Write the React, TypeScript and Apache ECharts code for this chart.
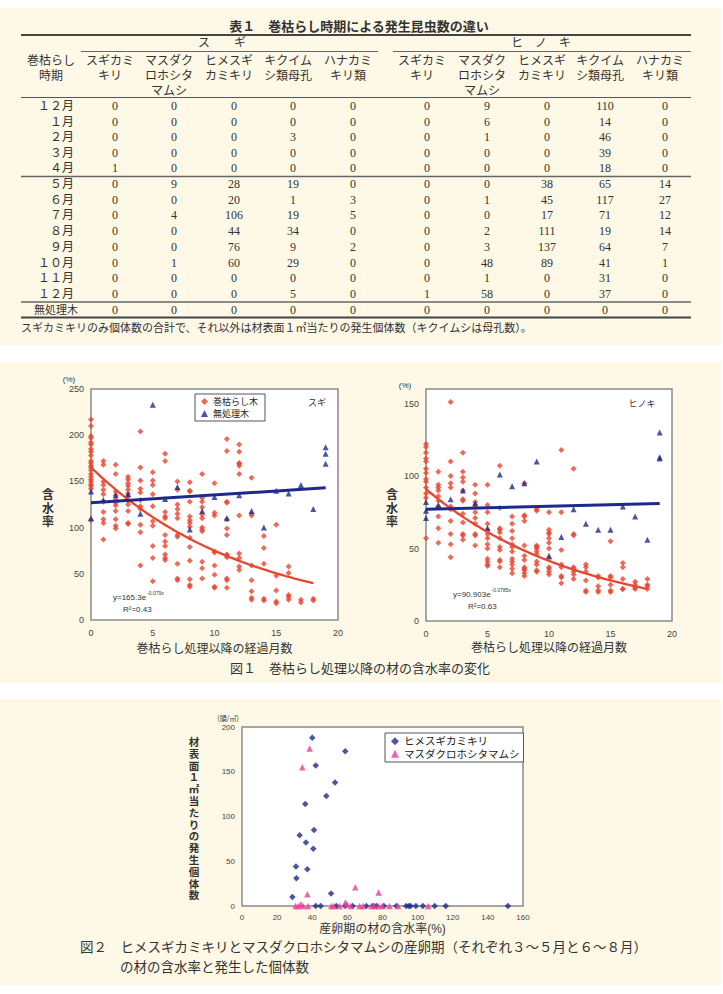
import React, { useEffect, useRef } from "react";
import * as echarts from "echarts";

// ---------- 表１ ----------
const tableTitle = "表１　巻枯らし時期による発生昆虫数の違い";
const speciesGroups = ["ス　　ギ", "ヒ　ノ　キ"];
const periodHeader = "巻枯らし\n時期";
const insectHeaders = [
  "スギカミ\nキリ",
  "マスダク\nロホシタ\nマムシ",
  "ヒメスギ\nカミキリ",
  "キクイム\nシ類母孔",
  "ハナカミ\nキリ類",
];
const periods = [
  "１２月", "１月", "２月", "３月", "４月",
  "５月", "６月", "７月", "８月", "９月", "１０月", "１１月", "１２月",
  "無処理木",
];
const sugiCounts = [
  [0, 0, 0, 0, 0],
  [0, 0, 0, 0, 0],
  [0, 0, 0, 3, 0],
  [0, 0, 0, 0, 0],
  [1, 0, 0, 0, 0],
  [0, 9, 28, 19, 0],
  [0, 0, 20, 1, 3],
  [0, 4, 106, 19, 5],
  [0, 0, 44, 34, 0],
  [0, 0, 76, 9, 2],
  [0, 1, 60, 29, 0],
  [0, 0, 0, 0, 0],
  [0, 0, 0, 5, 0],
  [0, 0, 0, 0, 0],
];
const hinokiCounts = [
  [0, 9, 0, 110, 0],
  [0, 6, 0, 14, 0],
  [0, 1, 0, 46, 0],
  [0, 0, 0, 39, 0],
  [0, 0, 0, 18, 0],
  [0, 0, 38, 65, 14],
  [0, 1, 45, 117, 27],
  [0, 0, 17, 71, 12],
  [0, 2, 111, 19, 14],
  [0, 3, 137, 64, 7],
  [0, 48, 89, 41, 1],
  [0, 1, 0, 31, 0],
  [1, 58, 0, 37, 0],
  [0, 0, 0, 0, 0],
];
const tableNote =
  "スギカミキリのみ個体数の合計で、それ以外は材表面１㎡当たりの発生個体数（キクイムシは母孔数）。";

// ---------- 図１ ----------
const fig1Caption = "図１　巻枯らし処理以降の材の含水率の変化";
const monthAxisName = "巻枯らし処理以降の経過月数";
const moistureName = "含水率";
const treatedName = "巻枯らし木";
const controlName = "無処理木";

// スギ: moisture content (%) of girdled trees, listed per elapsed month (index = month)
const sugiTreated = [
  [217, 210, 199, 197, 192, 190, 185, 182, 178, 172, 170, 167, 165, 162, 158, 155, 152, 150, 147, 145, 142, 108],
  [172, 168, 150, 146, 141, 136, 128, 117, 109, 105, 87],
  [168, 158, 139, 135, 130, 127, 124, 118, 109, 102, 99],
  [155, 152, 148, 145, 141, 137, 134, 129, 125, 118, 105, 104],
  [204, 165, 151, 142, 138, 130, 123, 120, 103, 95, 59],
  [160, 151, 146, 136, 123, 107, 102, 80, 67, 42],
  [180, 172, 117, 112, 110, 92, 85, 80, 71, 67, 65],
  [150, 141, 125, 120, 115, 110, 92, 90, 61, 45, 43],
  [149, 140, 139, 128, 112, 108, 105, 101, 89, 79, 64, 44, 38, 36],
  [158, 132, 128, 122, 114, 110, 100, 98, 96, 63, 56, 45],
  [148, 116, 113, 74, 73, 59, 49, 36, 35],
  [196, 183, 128, 127, 109, 99, 92, 71, 70, 68, 45, 43, 35],
  [190, 182, 170, 169, 167, 158, 113, 72, 67, 58, 54],
  [154, 115, 113, 59, 43, 31, 24, 22],
  [91, 78, 61, 23, 21],
  [103, 48, 32, 20, 18],
  [58, 51, 27, 25, 22],
  [22, 19],
  [23, 21],
];
// スギ: untreated trees [month, %]
const sugiControl = [
  [0, 139], [0, 110], [1, 130], [2, 135], [3, 136], [4, 115], [5, 233], [6, 131],
  [7, 144], [8, 98], [9, 118], [10, 133], [11, 110], [12, 135], [13, 118], [14, 100],
  [15, 140], [16, 137], [17, 146], [18, 120], [19, 187], [19, 180], [19, 169],
];
const sugiFit = { a: 165.3, b: -0.079, r2: "0.43", xMax: 18 };
const sugiControlTrend = [[0, 127], [19, 143]];

// ヒノキ
const hinokiTreated = [
  [122, 120, 116, 112, 110, 105, 102, 98, 96, 92, 88, 85, 57],
  [103, 94, 92, 90, 86, 83, 79, 72, 64, 54],
  [151, 110, 100, 95, 92, 79, 77, 69, 60, 53, 44],
  [116, 103, 99, 96, 90, 84, 83, 74, 68, 60, 59, 56],
  [94, 88, 82, 80, 75, 71, 67, 60, 59, 52],
  [94, 80, 75, 67, 63, 60, 57, 53, 50, 43, 41, 39, 38],
  [107, 78, 64, 63, 61, 57, 51, 49, 42, 41, 37],
  [72, 67, 62, 57, 53, 51, 48, 43, 41, 39, 36, 33],
  [95, 73, 72, 69, 52, 45, 42, 37, 36, 35, 33, 31],
  [77, 76, 52, 51, 50, 48, 46, 41, 39, 35, 34],
  [75, 63, 61, 60, 57, 54, 50, 43, 37, 36, 34, 32],
  [118, 75, 49, 39, 37, 31, 30, 26],
  [105, 60, 59, 37, 36, 34, 32, 29],
  [39, 37, 34, 28, 21, 20],
  [31, 30, 24, 21, 20],
  [55, 31, 30, 25, 21, 20],
  [40, 37, 29, 22, 22],
  [27, 25, 23, 22],
  [29, 25, 24, 22],
];
const hinokiControl = [
  [0, 82], [0, 76], [0, 71], [1, 80], [2, 84], [3, 90], [4, 81], [5, 64], [6, 101],
  [7, 93], [8, 95], [9, 110], [10, 45], [11, 58], [12, 77], [13, 67], [14, 63],
  [15, 63], [16, 79], [17, 72], [18, 56], [19, 130], [19, 113], [19, 112],
];
const hinokiFit = { a: 90.903, b: -0.0785, r2: "0.63", xMax: 18 };
const hinokiControlTrend = [[0, 77], [19, 81]];

// ---------- 図２ ----------
const fig2CaptionLines = [
  "図２　ヒメスギカミキリとマスダクロホシタマムシの産卵期（それぞれ３～５月と６～８月）",
  "の材の含水率と発生した個体数",
];
const fig2YName = "材表面１㎡当たりの発生個体数";
const fig2XName = "産卵期の材の含水率(%)";
const himesugiName = "ヒメスギカミキリ";
const masudaName = "マスダクロホシタマムシ";
// [moisture %, individuals per m²]
const himesugiPoints = [
  [28.7, 10], [30.7, 44], [31, 31], [32.8, 79], [36, 114], [36.4, 71], [37.2, 41],
  [40, 188], [40.6, 64], [41, 85], [42, 157], [48, 123], [50.7, 14], [53, 138], [58.8, 173],
  [42, 0], [44.8, 0], [53.7, 0], [58.8, 0], [63, 0], [70.8, 0], [74.6, 0], [76.5, 0],
  [80.8, 0], [87.9, 0], [93.5, 0], [95, 0], [96, 0], [99, 0], [103, 0], [109.7, 0],
  [116, 0], [151.4, 0],
];
const masudaPoints = [
  [34.3, 155], [38.5, 176], [37.2, 13], [64.5, 21], [77.8, 15],
  [30.5, 0], [32, 0], [33.6, 2], [34.7, 0], [37.6, 0], [50.9, 0], [52.2, 0], [55.6, 0],
  [58.8, 4], [59.8, 2], [62, 0], [67, 0], [69, 0], [73.6, 0], [75.3, 0], [77.8, 0],
  [80, 0], [84, 0], [88.8, 0], [106, 0],
];

// ---------- styling ----------
const SANS = '"Liberation Sans", "Noto Sans CJK JP", sans-serif';
const JP = '"Noto Sans CJK JP", sans-serif';
const SERIF = '"Liberation Serif", "Noto Sans CJK JP", serif';
const CREAM = "#FEF9E6";
const RED = "#E8452F";
const NAVY = "#1D2A8C";
const PINK = "#EC3F97";
const INK = "#333333";

const byMonthToPairs = (byMonth: number[][]) =>
  byMonth.flatMap((vals, m) => vals.map((v) => [m, v]));

// exponential regression curve y = a·e^(b·x) evaluated along the month axis
const fitCurve = (fit: { a: number; b: number; xMax: number }) => {
  const pts: number[][] = [];
  for (let i = 0; i <= fit.xMax * 4; i++) {
    const x = i / 4;
    pts.push([x, fit.a * Math.exp(fit.b * x)]);
  }
  return pts;
};

const txt = (
  x: number,
  y: number,
  text: string,
  font: string,
  align = "center",
  vAlign = "middle",
  extra: any = {}
) => ({
  type: "text",
  x,
  y,
  z: 10,
  style: {
    text,
    font,
    fill: INK,
    align,
    verticalAlign: vAlign,
    textAlign: align,
    textVerticalAlign: vAlign,
    ...extra,
  },
});

// regression formula with a raised exponent, drawn as one rich text
const formula = (x: number, y: number, fit: { a: number; b: number }) => ({
  type: "text",
  x,
  y,
  z: 10,
  style: {
    text: `{b|y=${fit.a}e}{s|${fit.b}x}`,
    fill: INK,
    align: "left",
    verticalAlign: "middle",
    textAlign: "left",
    textVerticalAlign: "middle",
    rich: {
      b: { fontSize: 8, fontFamily: SANS, fill: INK, lineHeight: 11, verticalAlign: "bottom" },
      s: { fontSize: 5, fontFamily: SANS, fill: INK, lineHeight: 6, verticalAlign: "top", padding: [0, 0, 0, 1] },
    },
  },
});

const hline = (x1: number, x2: number, y: number, w: number, color = "#555") => ({
  type: "line",
  z: 10,
  shape: { x1, y1: y, x2, y2: y },
  style: { stroke: color, lineWidth: w },
});

// multi-line cell text, one text element per line
function stacked(x: number, yFirst: number, label: string, step: number, font: string): any[] {
  return label.split("\n").map((line, i) => txt(x, yFirst + i * step, line, font));
}

function buildTable(): any[] {
  const els: any[] = [];
  const sugiX = [115, 174, 234, 293, 353];
  const hinokiX = [427, 487, 547, 605, 665];
  const font = `12px ${SERIF}`;

  els.push(txt(359, 25, tableTitle, `bold 13px ${JP}`));
  els.push(hline(21, 691, 35, 2, "#444"));
  els.push(txt(222, 43, speciesGroups[0], font));
  els.push(txt(541, 43, speciesGroups[1], font));
  els.push(hline(81, 378, 51.5, 1, "#666"));
  els.push(hline(393, 691, 51.5, 1, "#666"));
  els.push(...stacked(51, 60.5, periodHeader, 15, font));
  insectHeaders.forEach((h, i) => {
    els.push(...stacked(sugiX[i] - 5, 60.5, h, 15, font));
    els.push(...stacked(hinokiX[i] - 5, 60.5, h, 15, font));
  });
  els.push(hline(21, 691, 97.5, 1, "#555"));

  const rowY = (i: number) =>
    i < 5 ? 106 + i * 15.6 : i < 13 ? 184 + (i - 5) * 15.7 : 310;
  periods.forEach((p, i) => {
    const y = rowY(i);
    if (i === 13) els.push(txt(56, y, p, `11px ${SERIF}`));
    else els.push(txt(74, y, p, font, "right"));
    sugiCounts[i].forEach((v, j) => els.push(txt(sugiX[j], y, String(v), font)));
    hinokiCounts[i].forEach((v, j) => els.push(txt(hinokiX[j], y, String(v), font)));
  });
  els.push(hline(21, 691, 176.5, 1.6, "#666"));
  els.push(hline(21, 691, 302, 1.6, "#666"));
  els.push(hline(21, 691, 317.5, 2, "#444"));
  els.push(txt(21, 327, tableNote, `11px ${JP}`, "left"));
  return els;
}

// vertical axis title, one upright character per text element
function verticalLabel(x: number, yTop: number, label: string, step: number, font: string): any[] {
  return label.split("").map((ch, i) => txt(x, yTop + i * step, ch, font));
}

function buildOption(): any {
  const axisBase = {
    axisLine: { show: false },
    axisTick: { show: false },
    splitLine: { show: false },
  };
  const labelStyle = { fontSize: 9, color: "#444", fontFamily: SANS };
  const gridBase = {
    show: true,
    backgroundColor: "#ffffff",
    borderColor: "#8a8a8a",
    borderWidth: 1.5,
  };

  const graphic: any[] = [
    { type: "rect", z: -10, shape: { x: 0, y: 8, width: 721, height: 337 }, style: { fill: CREAM } },
    { type: "rect", z: -10, shape: { x: 0, y: 362, width: 721, height: 321 }, style: { fill: CREAM } },
    { type: "rect", z: -10, shape: { x: 0, y: 699, width: 721, height: 286 }, style: { fill: CREAM } },
    ...buildTable(),
    // 図１ annotations
    txt(69, 379, "(%)", `8px ${SANS}`),
    txt(405, 385, "(%)", `8px ${SANS}`),
    ...verticalLabel(48, 495, moistureName, 13.5, `bold 12px ${SANS}`),
    ...verticalLabel(392, 495, moistureName, 13.5, `bold 12px ${SANS}`),
    txt(317, 402, "スギ", `9px ${JP}`),
    txt(642, 403, "ヒノキ", `9px ${JP}`),
    formula(113, 596, sugiFit),
    txt(123, 609, `R²=${sugiFit.r2}`, `8px ${SANS}`, "left"),
    formula(453, 593, hinokiFit),
    txt(468, 606, `R²=${hinokiFit.r2}`, `8px ${SANS}`, "left"),
    txt(360, 667, fig1Caption, `13px ${JP}`),
    // 図２ annotations
    txt(228, 718, "(頭/㎡)", `7px ${JP}`),
    ...verticalLabel(194, 742, fig2YName, 11.8, `bold 10.5px ${SANS}`),
    txt(80, 947, fig2CaptionLines[0], `13.5px ${SANS}`, "left"),
    txt(120, 967, fig2CaptionLines[1], `13.5px ${SANS}`, "left"),
  ];

  return {
    animation: false,
    backgroundColor: "#ffffff",
    textStyle: { fontFamily: SANS },
    graphic: { elements: graphic },
    grid: [
      { ...gridBase, left: 91, top: 389, width: 247, height: 231 },
      { ...gridBase, left: 426, top: 389, width: 246, height: 232 },
      { ...gridBase, left: 242, top: 727, width: 281, height: 179 },
    ],
    xAxis: [
      {
        ...axisBase, type: "value", gridIndex: 0, min: 0, max: 20, interval: 5,
        axisLabel: { ...labelStyle, margin: 8 },
        name: monthAxisName, nameLocation: "middle", nameGap: 21,
        nameTextStyle: { fontSize: 12, color: INK, fontFamily: JP },
      },
      {
        ...axisBase, type: "value", gridIndex: 1, min: 0, max: 20, interval: 5,
        axisLabel: { ...labelStyle, margin: 8 },
        name: monthAxisName, nameLocation: "middle", nameGap: 19,
        nameTextStyle: { fontSize: 12, color: INK, fontFamily: JP },
      },
      {
        ...axisBase, type: "value", gridIndex: 2, min: 0, max: 160, interval: 20,
        axisLabel: { ...labelStyle, fontSize: 8, margin: 7 },
        name: fig2XName, nameLocation: "middle", nameGap: 17,
        nameTextStyle: { fontSize: 12, color: INK, fontFamily: SANS },
      },
    ],
    yAxis: [
      {
        ...axisBase, type: "value", gridIndex: 0, min: 0, max: 250, interval: 50,
        axisLabel: { ...labelStyle, margin: 7 },
      },
      {
        ...axisBase, type: "value", gridIndex: 1, min: 0, max: 160, interval: 50,
        axisLabel: {
          ...labelStyle, margin: 7,
          formatter: (v: number) => (v % 50 === 0 ? String(v) : ""),
        },
      },
      {
        ...axisBase, type: "value", gridIndex: 2, min: 0, max: 200, interval: 50,
        axisLabel: { ...labelStyle, fontSize: 8, margin: 7 },
      },
    ],
    legend: [
      {
        data: [treatedName, controlName],
        orient: "vertical",
        left: 195,
        top: 394,
        padding: [3, 7, 3, 6],
        itemGap: 3,
        itemWidth: 7,
        itemHeight: 7,
        backgroundColor: "#ffffff",
        borderColor: "#555",
        borderWidth: 1,
        borderRadius: 0,
        selectedMode: false,
        textStyle: { fontSize: 9, color: "#222", fontFamily: SANS },
      },
      {
        data: [himesugiName, masudaName],
        orient: "vertical",
        left: 385,
        top: 733,
        padding: [3, 4, 3, 6],
        itemGap: 2,
        itemWidth: 8,
        itemHeight: 8,
        backgroundColor: "#ffffff",
        borderColor: "#555",
        borderWidth: 1,
        borderRadius: 0,
        selectedMode: false,
        textStyle: { fontSize: 10.5, color: "#222", fontFamily: SANS },
      },
    ],
    series: [
      // スギ
      {
        name: treatedName, type: "scatter", xAxisIndex: 0, yAxisIndex: 0, clip: false,
        symbol: "diamond", symbolSize: 6, itemStyle: { color: RED },
        data: byMonthToPairs(sugiTreated), z: 3,
      },
      {
        name: controlName, type: "scatter", xAxisIndex: 0, yAxisIndex: 0, clip: false,
        symbol: "triangle", symbolSize: 6, itemStyle: { color: NAVY },
        data: sugiControl, z: 3,
      },
      {
        name: "sugiFitCurve", type: "line", xAxisIndex: 0, yAxisIndex: 0, showSymbol: false,
        smooth: false, lineStyle: { color: RED, width: 2.3 }, itemStyle: { color: RED },
        data: fitCurve(sugiFit), z: 5,
      },
      {
        name: "sugiControlLine", type: "line", xAxisIndex: 0, yAxisIndex: 0, showSymbol: false,
        lineStyle: { color: NAVY, width: 3 }, itemStyle: { color: NAVY },
        data: sugiControlTrend, z: 5,
      },
      // ヒノキ
      {
        name: treatedName, type: "scatter", xAxisIndex: 1, yAxisIndex: 1, clip: false,
        symbol: "diamond", symbolSize: 6, itemStyle: { color: RED },
        data: byMonthToPairs(hinokiTreated), z: 3,
      },
      {
        name: controlName, type: "scatter", xAxisIndex: 1, yAxisIndex: 1, clip: false,
        symbol: "triangle", symbolSize: 6, itemStyle: { color: NAVY },
        data: hinokiControl, z: 3,
      },
      {
        name: "hinokiFitCurve", type: "line", xAxisIndex: 1, yAxisIndex: 1, showSymbol: false,
        lineStyle: { color: RED, width: 2.3 }, itemStyle: { color: RED },
        data: fitCurve(hinokiFit), z: 5,
      },
      {
        name: "hinokiControlLine", type: "line", xAxisIndex: 1, yAxisIndex: 1, showSymbol: false,
        lineStyle: { color: NAVY, width: 3 }, itemStyle: { color: NAVY },
        data: hinokiControlTrend, z: 5,
      },
      // 図２
      {
        name: himesugiName, type: "scatter", xAxisIndex: 2, yAxisIndex: 2, clip: false,
        symbol: "diamond", symbolSize: 6.5, itemStyle: { color: NAVY },
        data: himesugiPoints, z: 3,
      },
      {
        name: masudaName, type: "scatter", xAxisIndex: 2, yAxisIndex: 2, clip: false,
        symbol: "triangle", symbolSize: 6.5, itemStyle: { color: PINK },
        data: masudaPoints, z: 4,
      },
    ],
  };
}

export default function App() {
  const ref = useRef<HTMLDivElement>(null);
  useEffect(() => {
    if (!ref.current) return;
    const chart = echarts.init(ref.current, null, { renderer: "svg" });
    chart.setOption(buildOption());
    return () => chart.dispose();
  }, []);
  return (
    <div
      ref={ref}
      style={{ position: "absolute", left: 0, top: 0, width: 723, height: 994 }}
    />
  );
}
